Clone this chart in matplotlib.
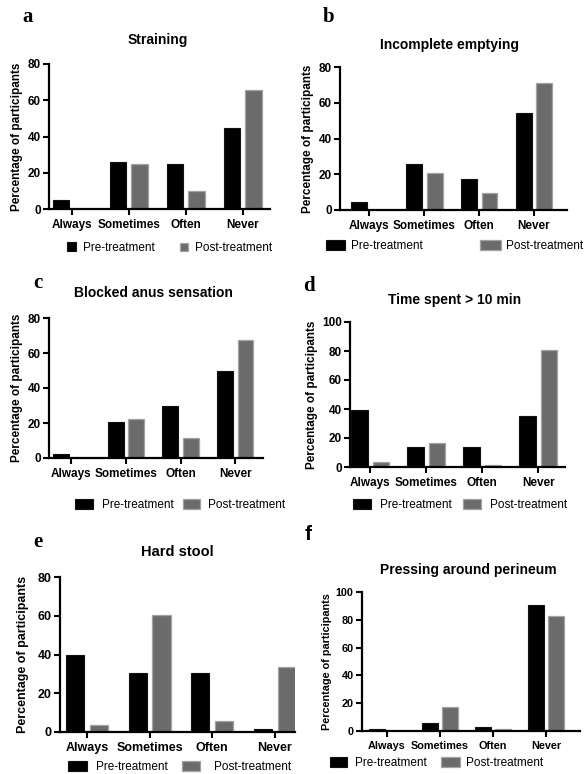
import matplotlib
matplotlib.use("Agg")
import matplotlib.pyplot as plt
import numpy as np

categories = ["Always", "Sometimes", "Often", "Never"]
series_names = ["Pre-treatment", "Post-treatment"]

straining_pre = [5, 26, 25, 44.5]
straining_post = [0, 25, 10, 65.5]
incomplete_pre = [4.5, 25.5, 17.5, 54.5]
incomplete_post = [0, 20.5, 9.5, 71]
blocked_pre = [2.3, 20.5, 29.5, 49.5]
blocked_post = [0, 22.5, 11.5, 67.5]
time_pre = [39.5, 13.5, 13.5, 35.5]
time_post = [3.5, 16.5, 1.5, 80.5]
hard_pre = [39.5, 30.5, 30.5, 1.5]
hard_post = [3.5, 60.5, 5.5, 33.5]
pressing_pre = [1.2, 5.5, 3.2, 91]
pressing_post = [0, 17.5, 1.2, 82.5]

titles = ["Straining", "Incomplete emptying", "Blocked anus sensation",
          "Time spent > 10 min", "Hard stool", "Pressing around perineum"]
letters = ["a", "b", "c", "d", "e", "f"]

W, H = 586, 774
fig = plt.figure(figsize=(W / 100, H / 100), dpi=100)
fig.patch.set_facecolor("white")

SANS = "Liberation Sans"
SERIF = "Liberation Serif"
PRE_COLOR = "#000000"
POST_COLOR = "#6b6b6b"
POST_EDGE = "#a3a3a3"

panels = [
    dict(pre=straining_pre, post=straining_post, ymax=80,
         box=(49, 270, 64, 209), xlim=(-0.40, 3.48), title=(158, 40), letter=(22, 17), lserif=True,
         tfs=8.5, titlefs=10, lpad=3,
         leg=[(67, 248, 0.78, 0.78, 0.6), (180, 248, 0.7, 0.7, 0.55)]),
    dict(pre=incomplete_pre, post=incomplete_post, ymax=80,
         box=(340, 567, 67, 210), xlim=(-0.53, 3.6), title=(450, 45), letter=(323, 17), lserif=True,
         tfs=8.5, titlefs=10, lpad=3,
         leg=[(326, 246, 1.65, 0.85, 0.5), (480, 246, 1.75, 0.85, 0.45)]),
    dict(pre=blocked_pre, post=blocked_post, ymax=80,
         box=(49, 263, 318, 458), xlim=(-0.41, 3.51), title=(153, 293), letter=(33, 283), lserif=True,
         tfs=8.5, titlefs=10, lpad=3,
         leg=[(75, 505, 1.55, 1.0, 0.75), (183, 505, 1.45, 1.0, 0.7)]),
    dict(pre=time_pre, post=time_post, ymax=100,
         box=(350, 565, 322, 467), xlim=(-0.36, 3.48), title=(455, 300), letter=(303, 286), lserif=True,
         tfs=8.5, titlefs=10, lpad=3,
         leg=[(353, 505, 1.55, 1.0, 0.75), (463, 505, 1.55, 1.0, 0.7)]),
    dict(pre=hard_pre, post=hard_post, ymax=80,
         box=(60, 295, 577, 732), xlim=(-0.43, 3.32), title=(177, 552), letter=(33, 542), lserif=True,
         tfs=9, titlefs=10.5, lpad=6,
         leg=[(68, 767, 1.6, 1.0, 0.8), (182, 767, 1.5, 1.0, 1.2)]),
    dict(pre=pressing_pre, post=pressing_post, ymax=100,
         box=(362, 580, 592, 731), xlim=(-0.47, 3.64), title=(468, 570), letter=(305, 535), lserif=False,
         tfs=7.8, titlefs=10, lpad=3,
         leg=[(330, 763, 1.45, 0.85, 0.65), (441, 763, 1.6, 0.85, 0.5)]),
]

x = np.arange(len(categories))
bw = 0.29
off = 0.19

for i, p in enumerate(panels):
    l, r, t, b = p["box"]
    ax = fig.add_axes([l / W, 1 - b / H, (r - l) / W, (b - t) / H])
    pre_bars = ax.bar(x - off, p["pre"], width=bw, color=PRE_COLOR, edgecolor="#111111",
                      linewidth=0.8, label=series_names[0], zorder=2)
    post_bars = ax.bar(x + off, p["post"], width=bw, color=POST_COLOR, edgecolor=POST_EDGE,
                       linewidth=0.9, label=series_names[1], zorder=2)
    ax.set_xlim(*p["xlim"])
    ax.set_ylim(0, p["ymax"])
    ax.set_yticks(np.arange(0, p["ymax"] + 1, 20))
    ax.set_xticks(x)
    ax.set_xticklabels(categories)
    for s in ["top", "right"]:
        ax.spines[s].set_visible(False)
    for s in ["left", "bottom"]:
        ax.spines[s].set_linewidth(1.6)
        ax.spines[s].set_color("black")
    ax.tick_params(axis="both", direction="out", length=4, width=1.5, colors="black",
                   labelsize=p["tfs"], pad=2)
    ax.tick_params(axis="x", pad=3)
    for lab in ax.get_xticklabels() + ax.get_yticklabels():
        lab.set_fontfamily(SANS)
        lab.set_fontweight("bold")
    ax.set_ylabel("Percentage of participants", fontfamily=SANS, fontweight="bold",
                  fontsize=p["tfs"], labelpad=p["lpad"])

    tx, ty = p["title"]
    fig.text(tx / W, 1 - ty / H, titles[i], ha="center", va="center",
             fontfamily=SANS, fontweight="bold", fontsize=p["titlefs"])
    lx, ly = p["letter"]
    fig.text(lx / W, 1 - ly / H, letters[i], ha="left", va="center",
             fontfamily=SERIF if p["lserif"] else SANS, fontweight="bold", fontsize=15)

    handles = [pre_bars, post_bars]
    legs = []
    for j, (hx, hy, hl, hh, tp) in enumerate(p["leg"]):
        lg = ax.legend(handles=[handles[j]], labels=[series_names[j]], loc="center left",
                       bbox_to_anchor=(hx / W, 1 - hy / H), bbox_transform=fig.transFigure,
                       frameon=False, borderpad=0, borderaxespad=0, handlelength=hl,
                       handleheight=hh, handletextpad=tp,
                       prop={"family": SANS, "size": 8.5})
        legs.append(lg)
    ax.add_artist(legs[0])

fig.savefig("out.png", dpi=100, facecolor="white")
